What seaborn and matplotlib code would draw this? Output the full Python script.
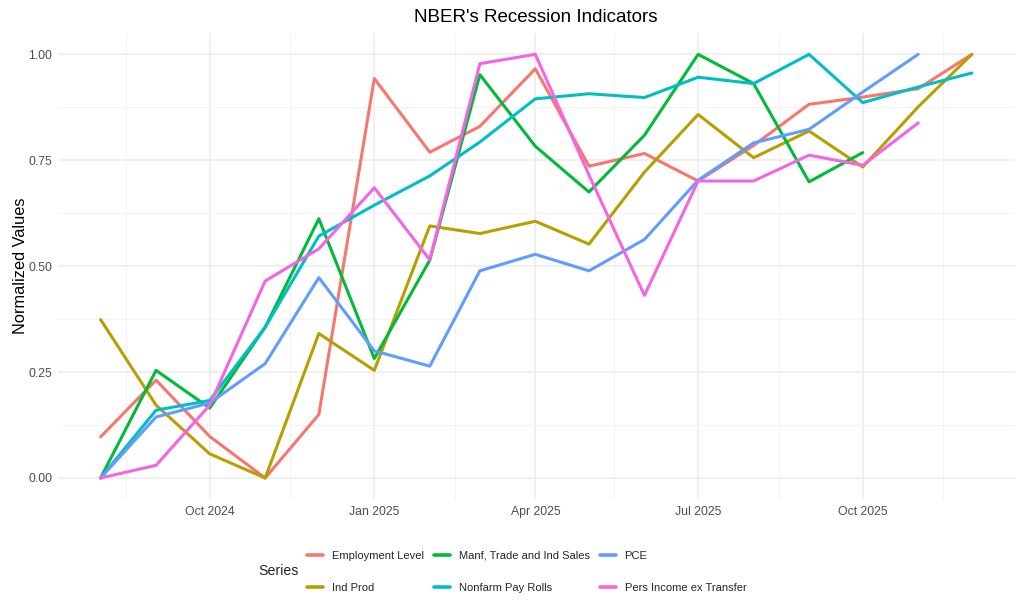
import pandas as pd
import matplotlib
matplotlib.use('Agg')
import matplotlib.pyplot as plt
import matplotlib.dates as mdates
from matplotlib.ticker import FixedLocator, FormatStrFormatter
import seaborn as sns

months = pd.date_range('2024-08-01', '2025-12-01', freq='MS')

employment_level = [0.097, 0.231, 0.098, 0.000, 0.150, 0.943, 0.769, 0.830, 0.966,
                    0.736, 0.766, 0.701, 0.785, 0.882, 0.899, 0.919, 1.000]
ind_prod = [0.374, 0.172, 0.057, 0.000, 0.341, 0.254, 0.595, 0.577, 0.606,
            0.552, 0.722, 0.858, 0.756, 0.819, 0.734, 0.876, 1.000]
manf_trade_sales = [0.000, 0.254, 0.165, 0.356, 0.612, 0.282, 0.514, 0.952, 0.783,
                    0.675, 0.809, 1.000, 0.931, 0.699, 0.768, None, None]
nonfarm_payrolls = [0.000, 0.160, 0.183, 0.356, 0.571, 0.644, 0.713, 0.793, 0.895,
                    0.907, 0.898, 0.946, 0.931, 1.000, 0.886, 0.923, 0.956]
pce = [0.000, 0.144, 0.177, 0.270, 0.473, 0.300, 0.264, 0.489, 0.528,
       0.489, 0.563, 0.703, 0.791, 0.823, 0.911, 1.000, None]
pers_income_ex_transfer = [0.000, 0.030, 0.172, 0.465, 0.541, 0.685, 0.515, 0.978, 1.000,
                           0.715, 0.431, 0.701, 0.701, 0.762, 0.738, 0.838, None]

series_names = ['Employment Level', 'Ind Prod', 'Manf, Trade and Ind Sales',
                'Nonfarm Pay Rolls', 'PCE', 'Pers Income ex Transfer']
series_values = [employment_level, ind_prod, manf_trade_sales,
                 nonfarm_payrolls, pce, pers_income_ex_transfer]
colors = ['#F8766D', '#B79F00', '#00BA38', '#00BFC4', '#619CFF', '#F564E3']

# long format for seaborn
frames = []
for name, vals in zip(series_names, series_values):
    frames.append(pd.DataFrame({'Date': months, 'Value': vals, 'Series': name}))
df = pd.concat(frames).dropna()

sns.set_theme(style='white')
plt.rcParams['font.family'] = ['Liberation Sans', 'DejaVu Sans']

fig = plt.figure(figsize=(10.24, 6.14), dpi=100)
ax = fig.add_axes([0.0563, 0.187, 0.9347, 0.759])

sns.lineplot(data=df, x='Date', y='Value', hue='Series', hue_order=series_names,
             palette=colors, linewidth=2.2, ax=ax, legend=False)

ax.set_xlim(pd.Timestamp('2024-08-01') - pd.Timedelta(days=24),
            pd.Timestamp('2025-12-01') + pd.Timedelta(days=24))
ax.set_ylim(-0.05, 1.05)

ax.xaxis.set_major_locator(mdates.MonthLocator(bymonth=[1, 4, 7, 10]))
ax.xaxis.set_major_formatter(mdates.DateFormatter('%b %Y'))
ax.xaxis.set_minor_locator(mdates.MonthLocator(bymonth=[2, 5, 8, 11], bymonthday=15))
ax.yaxis.set_major_locator(FixedLocator([0, 0.25, 0.5, 0.75, 1.0]))
ax.yaxis.set_major_formatter(FormatStrFormatter('%.2f'))
ax.yaxis.set_minor_locator(FixedLocator([0.125, 0.375, 0.625, 0.875]))

ax.grid(which='major', color='#EBEBEB', linewidth=1.1)
ax.grid(which='minor', color='#F3F3F3', linewidth=0.8)
ax.set_axisbelow(True)
for s in ax.spines.values():
    s.set_visible(False)
ax.tick_params(which='both', length=0, colors='#4D4D4D', labelsize=8.8)
ax.tick_params(axis='y', pad=4)
ax.tick_params(axis='x', pad=5)

ax.set_xlabel('')
ax.set_ylabel('Normalized Values', fontsize=11.8, color='black', labelpad=0)
ax.set_title("NBER's Recession Indicators", fontsize=13.5, color='black', pad=8)

handles = [plt.Line2D([], [], color=c, linewidth=2.6) for c in colors]
fig.legend(handles, series_names, ncol=3, loc='center left',
           bbox_to_anchor=(0.294, 0.069), frameon=False, fontsize=8,
           handlelength=1.45, handletextpad=0.8, columnspacing=0.9,
           labelspacing=2.0, borderpad=0)
fig.text(258 / 1024, 1 - 571 / 614, 'Series', fontsize=10.2, va='center', ha='left')

fig.savefig('out.png', dpi=100)
